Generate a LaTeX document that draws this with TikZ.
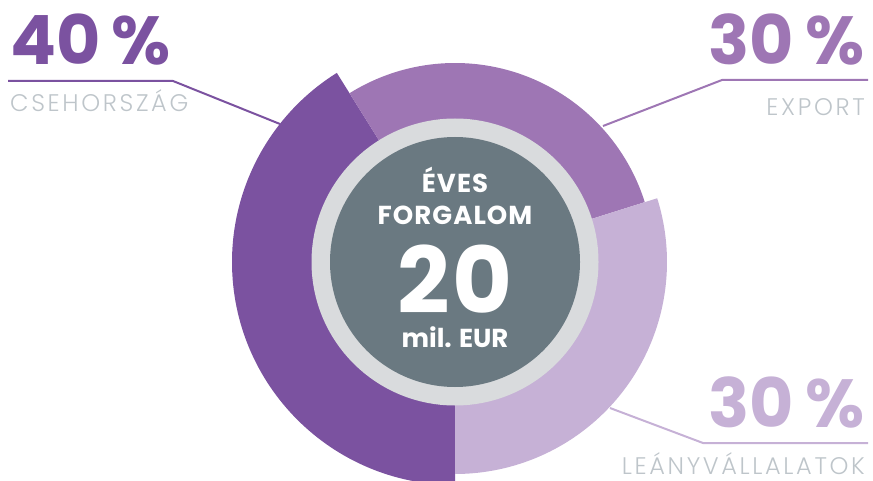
\documentclass[tikz,border=0pt]{standalone}
\usepackage{fontspec}
\setmainfont{Poppins}
\newfontfamily\thinfont{Poppins Light}[LetterSpace=11]
\usepackage{tikz}
\usetikzlibrary{positioning}
\definecolor{cseh}{HTML}{7B52A0}
\definecolor{export}{HTML}{9E76B4}
\definecolor{leany}{HTML}{C6B1D6}
\definecolor{ringgray}{HTML}{D9DBDD}
\definecolor{coregray}{HTML}{6A7981}
\definecolor{labelgray}{HTML}{BEC5CA}

\begin{document}
\begin{tikzpicture}[x=1pt, y=1pt]
\tikzstyle{pct}=[inner sep=0pt, font=\fontsize{68}{68}\selectfont\bfseries]
\tikzstyle{lbl}=[inner sep=0pt, text=labelgray, font=\fontsize{24}{24}\selectfont\thinfont]
\tikzstyle{ctr}=[inner sep=0pt, text=white, font=\fontsize{26}{26}\selectfont\bfseries\addfontfeatures{LetterSpace=4}]
\tikzstyle{lead}=[line width=2pt]

\useasboundingbox (0,0) rectangle (873,480);
\coordinate (c) at (455,218);

% leader lines
\coordinate (a1) at (8,399); \coordinate (a2) at (173,399); \coordinate (a3) at (280,356);
\coordinate (b1) at (868,400); \coordinate (b2) at (722,400); \coordinate (b3) at (603,354);
\coordinate (d1) at (868,37); \coordinate (d2) at (703,37); \coordinate (d3) at (610,72);
\draw[lead, cseh] (a1) -- (a2) -- (a3);
\draw[lead, export] (b1) -- (b2) -- (b3);
\draw[lead, leany] (d1) -- (d2) -- (d3);

% donut
\fill[cseh] (c) -- ++(270:223) arc[start angle=270, end angle=122, radius=223] -- cycle;
\fill[export] (c) -- ++(122:199) arc[start angle=122, end angle=17.5, radius=199] -- cycle;
\fill[leany] (c) -- ++(17.5:212) arc[start angle=17.5, end angle=-90, radius=212] -- cycle;
\node[circle, fill=ringgray, minimum size=287pt, inner sep=0pt] (ring) at (c) {};
\node[circle, fill=coregray, minimum size=250pt, inner sep=0pt] (core) at (c) {};

% center
\node[ctr, anchor=base] (eves) at (455,287) {ÉVES};
\node[ctr, anchor=base] (forg) at (455,255) {FORGALOM};
\node[ctr, anchor=base, text depth=0pt, font=\fontsize{92}{92}\selectfont\bfseries\addfontfeatures{LetterSpace=3}] (num) at (455,167) {20};
\node[ctr, anchor=base, text height=18pt, font=\fontsize{26}{26}\selectfont\bfseries] (mil) at (455,133) {mil. EUR};

% shares
\node[pct, text=cseh, anchor=base west] (p40) at (10,415) {40\,\%};
\node[lbl, anchor=base west] (l40) at (10,368) {CSEHORSZÁG};
\node[pct, text=export, anchor=base east] (p30a) at (865,415) {30\,\%};
\node[lbl, anchor=base east] (l30a) at (865,364) {EXPORT};
\node[pct, text=leany, anchor=base east] (p30b) at (865,53) {30\,\%};
\node[lbl, anchor=base east] (l30b) at (865,6) {LEÁNYVÁLLALATOK};
\end{tikzpicture}
\end{document}
